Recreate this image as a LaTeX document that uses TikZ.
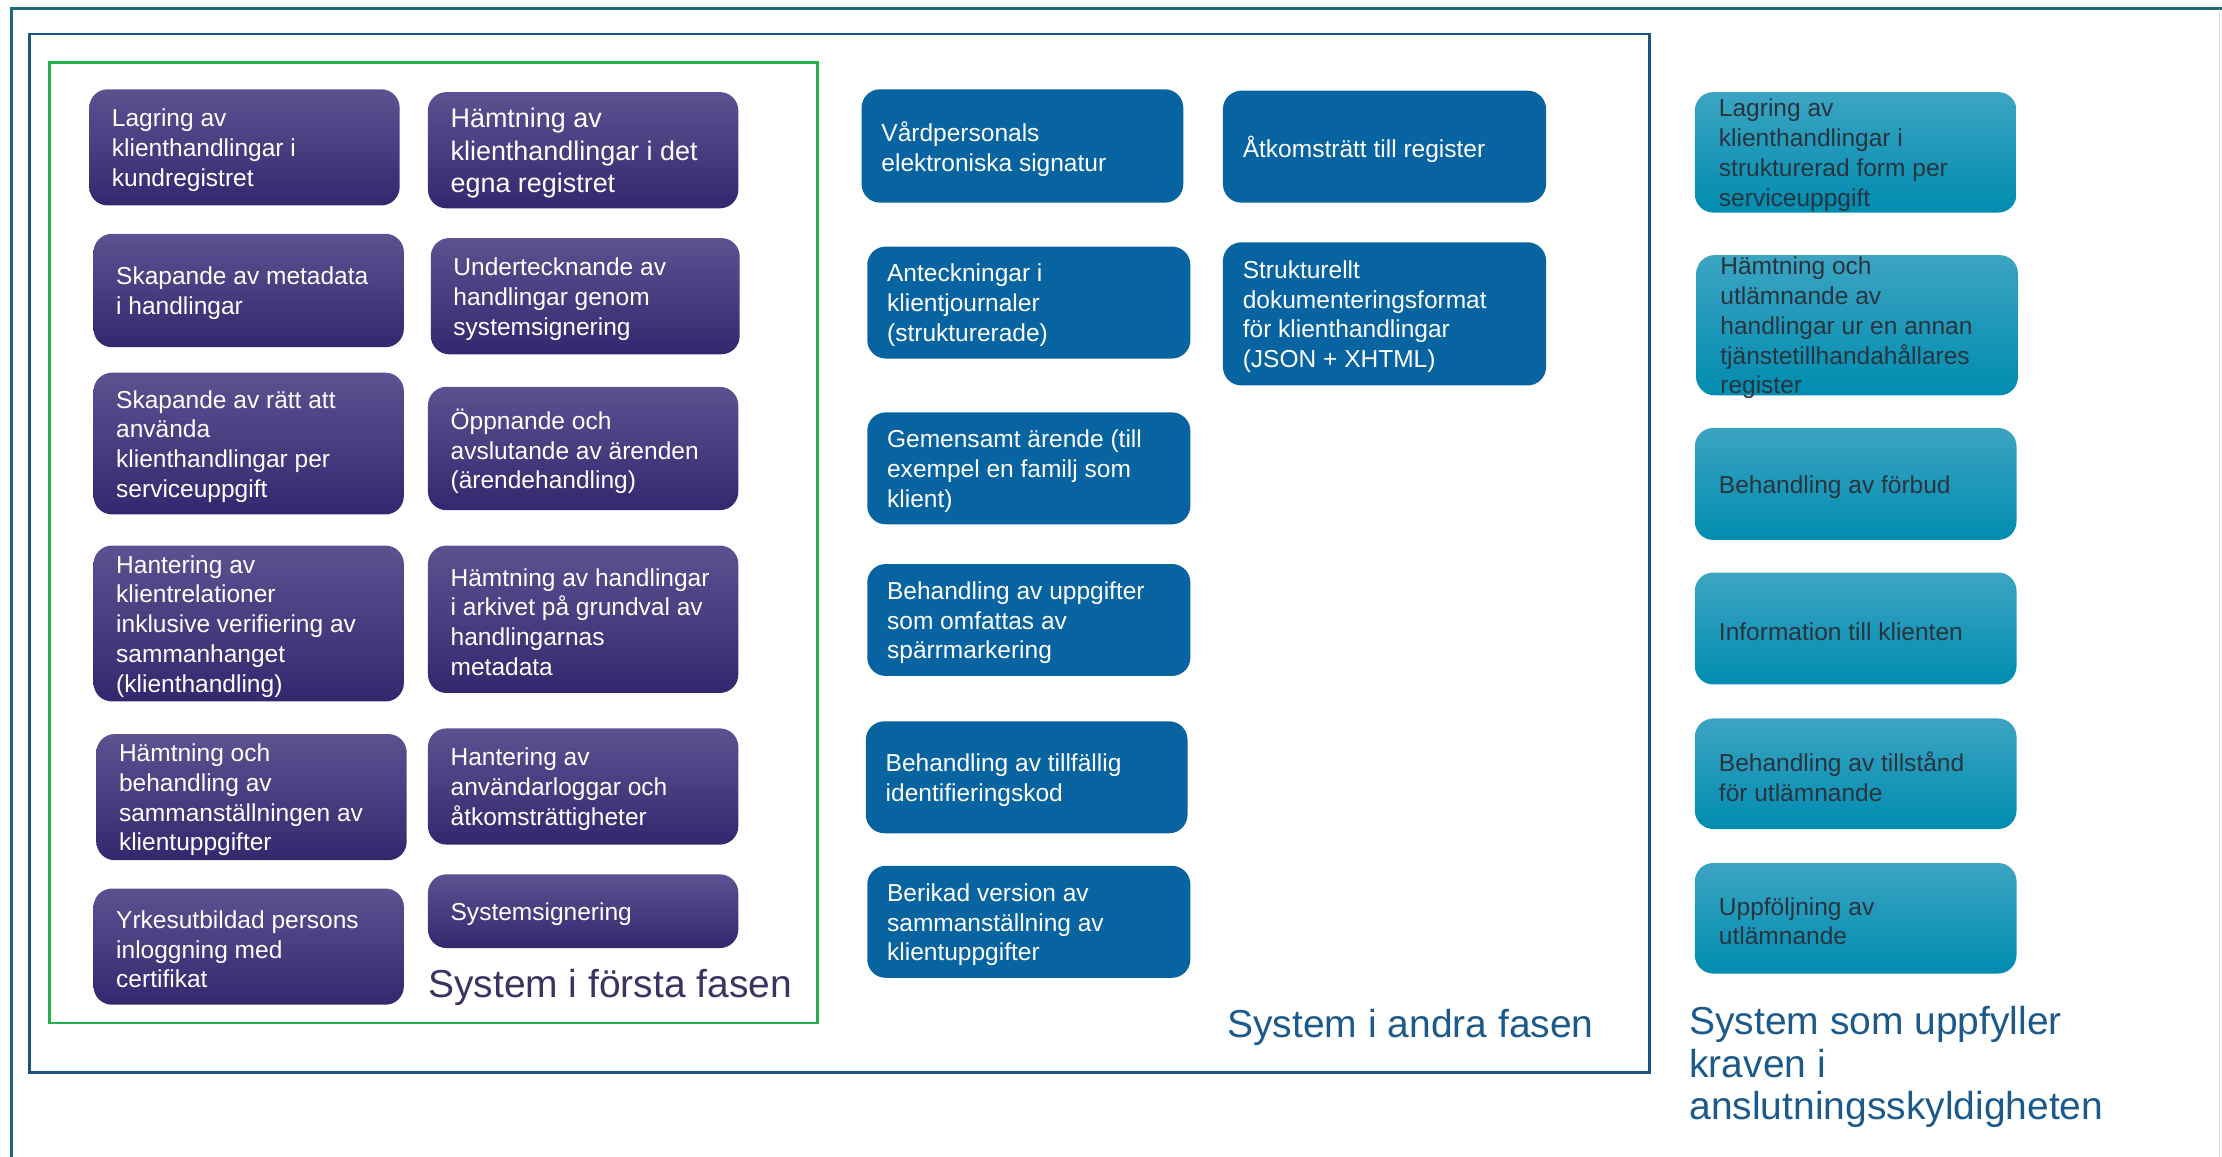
\documentclass[tikz,border=0pt]{standalone}
\usepackage{fontspec}
\setmainfont{Liberation Sans}
\definecolor{outerteal}{RGB}{28,104,124}
\definecolor{midblue}{RGB}{27,84,128}
\definecolor{greenframe}{RGB}{34,177,76}
\definecolor{purpletop}{RGB}{92,82,145}
\definecolor{purplebot}{RGB}{50,40,110}
\definecolor{bluefill}{RGB}{8,100,160}
\definecolor{tealtop}{RGB}{60,164,194}
\definecolor{tealbot}{RGB}{0,140,176}
\definecolor{tealtext}{RGB}{40,52,62}
\definecolor{labelpurple}{RGB}{58,52,98}
\definecolor{labelblue}{RGB}{29,90,140}
\tikzset{
  purplebox/.style={rounded corners=13pt, top color=purpletop, bottom color=purplebot, draw=none, inner sep=0pt},
  bluebox/.style={rounded corners=13pt, fill=bluefill, draw=none, inner sep=0pt},
  tealbox/.style={rounded corners=13pt, top color=tealtop, bottom color=tealbot, draw=none, inner sep=0pt},
  boxtext/.style={anchor=west, align=left, inner sep=0pt, yshift=-2pt, font=\fontsize{17.3}{21}\selectfont},
  purpleboxtxt/.style={boxtext, text=white, xshift=16pt},
  blueboxtxt/.style={boxtext, text=white, xshift=14pt},
  tealboxtxt/.style={boxtext, text=tealtext, xshift=17pt},
  grouplabel/.style={anchor=west, align=left, inner sep=0pt, yshift=-3pt, font=\fontsize{27.5}{30}\selectfont},
}
\newcommand{\placebox}[8][]{%
  \node[#3, minimum width={#6-#4}, minimum height={#7-#5}] (#2) at ({(#4+#6)/2},{(#5+#7)/2}) {};
  \node[#3txt, #1] (#2t) at (#2.west) {#8};
}
\begin{document}
\begin{tikzpicture}[x=1pt, y=-1pt]
\useasboundingbox (0,0) rectangle (1568,816);
% frames
\draw[line width=2.2pt, outerteal] (8,840) -- (8,6) -- (1600,6);
\draw[line width=0.8pt, gray!30] (1566,6) -- (1566,840);
\draw[line width=2pt, midblue] (21,24) rectangle (1164,757);
\draw[line width=1.8pt, greenframe] (35,44) rectangle (577,722);
% purple, left column
\placebox{p1}{purplebox}{63}{63}{282}{145}{Lagring av\\klienthandlingar i\\kundregistret}
\placebox{p2}{purplebox}{66}{165}{285}{245}{Skapande av metadata\\i handlingar}
\placebox{p3}{purplebox}{66}{263}{285}{363}{Skapande av rätt att\\använda\\klienthandlingar per\\serviceuppgift}
\placebox{p4}{purplebox}{66}{385}{285}{495}{Hantering av\\klientrelationer\\inklusive verifiering av\\sammanhanget\\(klienthandling)}
\placebox{p5}{purplebox}{68}{518}{287}{607}{Hämtning och\\behandling av\\sammanställningen av\\klientuppgifter}
\placebox{p6}{purplebox}{66}{627}{285}{709}{Yrkesutbildad persons\\inloggning med\\certifikat}
% purple, right column
\placebox[font=\fontsize{19}{23}\selectfont]{q1}{purplebox}{302}{65}{521}{147}{Hämtning av\\klienthandlingar i det\\egna registret}
\placebox{q2}{purplebox}{304}{168}{522}{250}{Undertecknande av\\handlingar genom\\systemsignering}
\placebox{q3}{purplebox}{302}{273}{521}{360}{Öppnande och\\avslutande av ärenden\\(ärendehandling)}
\placebox{q4}{purplebox}{302}{385}{521}{489}{Hämtning av handlingar\\i arkivet på grundval av\\handlingarnas\\metadata}
\placebox{q5}{purplebox}{302}{514}{521}{596}{Hantering av\\användarloggar och\\åtkomsträttigheter}
\placebox{q6}{purplebox}{302}{617}{521}{669}{Systemsignering}
\node[grouplabel, text=labelpurple] (lab1) at (302,694) {System i första fasen};
% blue
\placebox{b1}{bluebox}{608}{63}{835}{143}{Vårdpersonals\\elektroniska signatur}
\placebox{b2}{bluebox}{612}{174}{840}{253}{Anteckningar i\\klientjournaler\\(strukturerade)}
\placebox{b3}{bluebox}{612}{291}{840}{370}{Gemensamt ärende (till\\exempel en familj som\\klient)}
\placebox{b4}{bluebox}{612}{398}{840}{477}{Behandling av uppgifter\\som omfattas av\\spärrmarkering}
\placebox{b5}{bluebox}{611}{509}{838}{588}{Behandling av tillfällig\\identifieringskod}
\placebox{b6}{bluebox}{612}{611}{840}{690}{Berikad version av\\sammanställning av\\klientuppgifter}
\placebox{b7}{bluebox}{863}{64}{1091}{143}{Åtkomsträtt till register}
\placebox{b8}{bluebox}{863}{171}{1091}{272}{Strukturellt\\dokumenteringsformat\\för klienthandlingar\\(JSON + XHTML)}
\node[grouplabel, text=labelblue] (lab2) at (866,722) {System i andra fasen};
% teal
\placebox{t1}{tealbox}{1196}{65}{1423}{150}{Lagring av\\klienthandlingar i\\strukturerad form per\\serviceuppgift}
\placebox{t2}{tealbox}{1197}{180}{1424}{279}{Hämtning och\\utlämnande av\\handlingar ur en annan\\tjänstetillhandahållares\\register}
\placebox{t3}{tealbox}{1196}{302}{1423}{381}{Behandling av förbud}
\placebox{t4}{tealbox}{1196}{404}{1423}{483}{Information till klienten}
\placebox{t5}{tealbox}{1196}{507}{1423}{585}{Behandling av tillstånd\\för utlämnande}
\placebox{t6}{tealbox}{1196}{609}{1423}{687}{Uppföljning av\\utlämnande}
\node[grouplabel, text=labelblue] (lab3) at (1192,750) {System som uppfyller\\kraven i\\anslutningsskyldigheten};
\end{tikzpicture}
\end{document}
